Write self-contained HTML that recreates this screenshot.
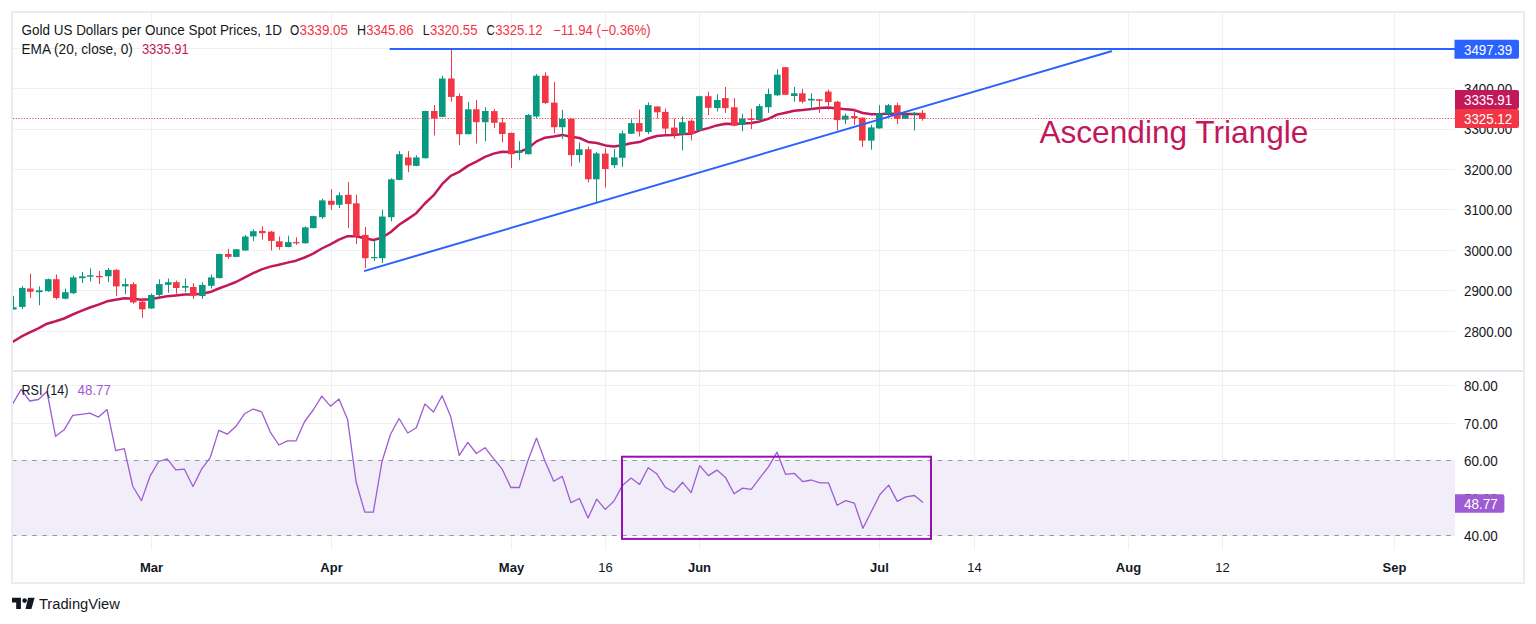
<!DOCTYPE html><html><head><meta charset="utf-8"><style>html,body{margin:0;padding:0;background:#fff;}svg{display:block}text{font-family:"Liberation Sans", sans-serif;}</style></head><body>
<svg width="1536" height="624" viewBox="0 0 1536 624">
<rect x="0" y="0" width="1536" height="624" fill="#fff"/>
<defs><clipPath id="mainclip"><rect x="13" y="13" width="1442" height="357"/></clipPath><clipPath id="rsiclip"><rect x="13" y="372" width="1442" height="178"/></clipPath></defs>
<rect x="13" y="460" width="1442" height="76" fill="#F2EEF9"/>
<rect x="151" y="13" width="1" height="357" fill="#F0F0F1"/>
<rect x="151" y="372" width="1" height="178" fill="#F0F0F1"/>
<rect x="331" y="13" width="1" height="357" fill="#F0F0F1"/>
<rect x="331" y="372" width="1" height="178" fill="#F0F0F1"/>
<rect x="511" y="13" width="1" height="357" fill="#F0F0F1"/>
<rect x="511" y="372" width="1" height="178" fill="#F0F0F1"/>
<rect x="605" y="13" width="1" height="357" fill="#F0F0F1"/>
<rect x="605" y="372" width="1" height="178" fill="#F0F0F1"/>
<rect x="699" y="13" width="1" height="357" fill="#F0F0F1"/>
<rect x="699" y="372" width="1" height="178" fill="#F0F0F1"/>
<rect x="879" y="13" width="1" height="357" fill="#F0F0F1"/>
<rect x="879" y="372" width="1" height="178" fill="#F0F0F1"/>
<rect x="974" y="13" width="1" height="357" fill="#F0F0F1"/>
<rect x="974" y="372" width="1" height="178" fill="#F0F0F1"/>
<rect x="1128" y="13" width="1" height="357" fill="#F0F0F1"/>
<rect x="1128" y="372" width="1" height="178" fill="#F0F0F1"/>
<rect x="1222" y="13" width="1" height="357" fill="#F0F0F1"/>
<rect x="1222" y="372" width="1" height="178" fill="#F0F0F1"/>
<rect x="1394" y="13" width="1" height="357" fill="#F0F0F1"/>
<rect x="1394" y="372" width="1" height="178" fill="#F0F0F1"/>
<rect x="13" y="331" width="1442" height="1" fill="#F0F0F1"/>
<rect x="13" y="290" width="1442" height="1" fill="#F0F0F1"/>
<rect x="13" y="250" width="1442" height="1" fill="#F0F0F1"/>
<rect x="13" y="209" width="1442" height="1" fill="#F0F0F1"/>
<rect x="13" y="169" width="1442" height="1" fill="#F0F0F1"/>
<rect x="13" y="129" width="1442" height="1" fill="#F0F0F1"/>
<rect x="13" y="88" width="1442" height="1" fill="#F0F0F1"/>
<rect x="13" y="48" width="1442" height="1" fill="#F0F0F1"/>
<rect x="13" y="385" width="1442" height="1" fill="#F0F0F1"/>
<rect x="13" y="423" width="1442" height="1" fill="#F0F0F1"/>
<rect x="13" y="498" width="1442" height="1" fill="#F0F0F1"/>
<line x1="13" y1="460.5" x2="1455" y2="460.5" stroke="#9598A1" stroke-width="1" stroke-dasharray="4.6 5.573" stroke-dashoffset="1.16"/>
<line x1="13" y1="535.5" x2="1455" y2="535.5" stroke="#9598A1" stroke-width="1" stroke-dasharray="4.6 5.573" stroke-dashoffset="1.16"/>
<text x="1039.4" y="142.8" font-size="31.5" fill="#C2185B" textLength="269" lengthAdjust="spacingAndGlyphs">Ascending Triangle</text>
<g clip-path="url(#mainclip)">
<polyline points="4.0,345.5 12.6,341.9 21.2,336.7 29.8,332.4 38.4,328.4 47.0,323.7 55.6,321.2 64.1,318.5 72.7,314.5 81.3,310.9 89.9,307.5 98.5,304.6 107.1,301.3 115.7,299.8 124.3,298.3 132.9,298.7 141.5,299.7 150.0,299.2 158.6,297.8 167.2,296.3 175.8,295.5 184.4,294.6 193.0,294.6 201.6,293.7 210.2,292.1 218.8,288.5 227.3,285.4 235.9,282.0 244.5,277.7 253.1,273.2 261.7,269.4 270.3,266.6 278.9,264.7 287.5,262.6 296.1,260.7 304.6,257.5 313.2,253.6 321.8,248.5 330.4,244.3 339.0,239.7 347.6,236.2 356.2,236.2 364.8,238.2 373.4,240.0 381.9,237.8 390.5,232.2 399.1,224.8 407.7,219.1 416.3,213.2 424.9,203.5 433.5,195.4 442.1,184.2 450.7,175.9 459.2,171.9 467.8,165.9 476.4,161.7 485.0,156.9 493.6,153.6 502.2,151.7 510.8,151.9 519.4,151.8 528.0,148.3 536.5,141.4 545.1,137.7 553.7,136.6 562.3,134.9 570.9,136.8 579.5,138.0 588.1,141.9 596.7,143.0 605.3,145.4 613.8,146.6 622.4,145.3 631.0,143.2 639.6,142.1 648.2,138.5 656.8,136.0 665.4,135.3 674.0,135.1 682.6,133.9 691.1,133.8 699.7,130.3 708.3,128.1 716.9,125.4 725.5,123.7 734.1,123.9 742.7,123.4 751.3,123.0 759.9,121.4 768.4,118.8 777.0,114.6 785.6,112.7 794.2,110.8 802.8,109.9 811.4,108.9 820.0,108.1 828.6,107.4 837.2,108.6 845.7,109.3 854.3,110.1 862.9,113.0 871.5,114.3 880.1,114.3 888.7,113.4 897.3,113.9 905.9,114.0 914.5,113.9 923.0,114.3" fill="none" stroke="#C2185B" stroke-width="2.5" stroke-linejoin="round" stroke-linecap="round"/>
<rect x="13" y="296.0" width="1" height="13.5" fill="#089981"/>
<rect x="10" y="307.2" width="6.6" height="2.3" fill="#089981"/>
<rect x="22" y="286.0" width="1" height="22.8" fill="#089981"/>
<rect x="19" y="287.9" width="6.6" height="19.0" fill="#089981"/>
<rect x="30" y="273.8" width="1" height="24.2" fill="#F23645"/>
<rect x="27" y="288.5" width="6.6" height="3.3" fill="#F23645"/>
<rect x="39" y="286.4" width="1" height="18.8" fill="#089981"/>
<rect x="36" y="290.3" width="6.6" height="1.9" fill="#089981"/>
<rect x="48" y="278.5" width="1" height="13.4" fill="#089981"/>
<rect x="45" y="279.2" width="6.6" height="12.0" fill="#089981"/>
<rect x="56" y="274.5" width="1" height="24.9" fill="#F23645"/>
<rect x="53" y="279.2" width="6.6" height="18.8" fill="#F23645"/>
<rect x="65" y="288.5" width="1" height="10.9" fill="#089981"/>
<rect x="62" y="292.2" width="6.6" height="6.5" fill="#089981"/>
<rect x="73" y="275.5" width="1" height="18.6" fill="#089981"/>
<rect x="70" y="277.4" width="6.6" height="15.8" fill="#089981"/>
<rect x="82" y="272.0" width="1" height="11.1" fill="#089981"/>
<rect x="79" y="276.3" width="6.6" height="1.9" fill="#089981"/>
<rect x="90" y="268.3" width="1" height="13.1" fill="#089981"/>
<rect x="87" y="275.2" width="6.6" height="1.5" fill="#089981"/>
<rect x="99" y="270.9" width="1" height="13.1" fill="#F23645"/>
<rect x="96" y="275.9" width="6.6" height="1.4" fill="#F23645"/>
<rect x="108" y="268.0" width="1" height="14.1" fill="#089981"/>
<rect x="105" y="269.9" width="6.6" height="6.4" fill="#089981"/>
<rect x="116" y="269.0" width="1" height="27.1" fill="#F23645"/>
<rect x="113" y="269.9" width="6.6" height="16.5" fill="#F23645"/>
<rect x="125" y="278.5" width="1" height="15.6" fill="#089981"/>
<rect x="122" y="284.1" width="6.6" height="2.3" fill="#089981"/>
<rect x="133" y="282.2" width="1" height="21.5" fill="#F23645"/>
<rect x="130" y="284.1" width="6.6" height="18.3" fill="#F23645"/>
<rect x="142" y="297.7" width="1" height="20.1" fill="#F23645"/>
<rect x="139" y="301.7" width="6.6" height="7.6" fill="#F23645"/>
<rect x="151" y="293.4" width="1" height="15.4" fill="#089981"/>
<rect x="148" y="295.0" width="6.6" height="13.5" fill="#089981"/>
<rect x="159" y="279.3" width="1" height="18.0" fill="#089981"/>
<rect x="156" y="284.1" width="6.6" height="10.8" fill="#089981"/>
<rect x="168" y="278.5" width="1" height="14.3" fill="#089981"/>
<rect x="165" y="282.2" width="6.6" height="2.6" fill="#089981"/>
<rect x="176" y="280.6" width="1" height="13.2" fill="#F23645"/>
<rect x="173" y="282.2" width="6.6" height="5.8" fill="#F23645"/>
<rect x="185" y="278.5" width="1" height="13.7" fill="#089981"/>
<rect x="182" y="286.0" width="6.6" height="1.7" fill="#089981"/>
<rect x="193" y="283.3" width="1" height="15.6" fill="#F23645"/>
<rect x="190" y="287.0" width="6.6" height="8.4" fill="#F23645"/>
<rect x="202" y="282.2" width="1" height="16.7" fill="#089981"/>
<rect x="199" y="284.9" width="6.6" height="11.1" fill="#089981"/>
<rect x="211" y="274.5" width="1" height="14.0" fill="#089981"/>
<rect x="208" y="277.4" width="6.6" height="8.4" fill="#089981"/>
<rect x="219" y="253.5" width="1" height="24.9" fill="#089981"/>
<rect x="216" y="254.0" width="6.6" height="24.1" fill="#089981"/>
<rect x="228" y="248.8" width="1" height="10.0" fill="#F23645"/>
<rect x="225" y="254.0" width="6.6" height="2.9" fill="#F23645"/>
<rect x="236" y="249.0" width="1" height="8.2" fill="#089981"/>
<rect x="233" y="249.3" width="6.6" height="7.6" fill="#089981"/>
<rect x="245" y="234.9" width="1" height="15.9" fill="#089981"/>
<rect x="242" y="236.5" width="6.6" height="14.0" fill="#089981"/>
<rect x="253" y="229.3" width="1" height="11.6" fill="#089981"/>
<rect x="250" y="231.2" width="6.6" height="5.2" fill="#089981"/>
<rect x="262" y="226.4" width="1" height="13.2" fill="#F23645"/>
<rect x="259" y="230.9" width="6.6" height="2.3" fill="#F23645"/>
<rect x="271" y="230.9" width="1" height="19.6" fill="#F23645"/>
<rect x="268" y="231.7" width="6.6" height="9.2" fill="#F23645"/>
<rect x="279" y="236.5" width="1" height="13.2" fill="#F23645"/>
<rect x="276" y="241.3" width="6.6" height="5.7" fill="#F23645"/>
<rect x="288" y="235.7" width="1" height="11.6" fill="#089981"/>
<rect x="285" y="242.1" width="6.6" height="4.9" fill="#089981"/>
<rect x="296" y="237.3" width="1" height="7.6" fill="#F23645"/>
<rect x="293" y="242.1" width="6.6" height="1.2" fill="#F23645"/>
<rect x="305" y="226.4" width="1" height="17.2" fill="#089981"/>
<rect x="302" y="227.4" width="6.6" height="15.9" fill="#089981"/>
<rect x="313" y="215.7" width="1" height="12.7" fill="#089981"/>
<rect x="310" y="216.1" width="6.6" height="12.0" fill="#089981"/>
<rect x="322" y="198.8" width="1" height="20.0" fill="#089981"/>
<rect x="319" y="200.4" width="6.6" height="16.8" fill="#089981"/>
<rect x="331" y="189.2" width="1" height="20.5" fill="#F23645"/>
<rect x="328" y="200.8" width="6.6" height="4.0" fill="#F23645"/>
<rect x="339" y="192.4" width="1" height="15.6" fill="#089981"/>
<rect x="336" y="195.3" width="6.6" height="9.5" fill="#089981"/>
<rect x="348" y="182.0" width="1" height="46.1" fill="#F23645"/>
<rect x="345" y="194.8" width="6.6" height="9.2" fill="#F23645"/>
<rect x="356" y="194.8" width="1" height="49.3" fill="#F23645"/>
<rect x="353" y="203.3" width="6.6" height="32.8" fill="#F23645"/>
<rect x="365" y="226.9" width="1" height="41.2" fill="#F23645"/>
<rect x="362" y="234.9" width="6.6" height="23.3" fill="#F23645"/>
<rect x="374" y="240.5" width="1" height="20.4" fill="#089981"/>
<rect x="371" y="257.0" width="6.6" height="1.2" fill="#089981"/>
<rect x="382" y="209.7" width="1" height="53.3" fill="#089981"/>
<rect x="379" y="216.5" width="6.6" height="41.7" fill="#089981"/>
<rect x="391" y="178.3" width="1" height="43.1" fill="#089981"/>
<rect x="388" y="179.3" width="6.6" height="37.9" fill="#089981"/>
<rect x="399" y="151.1" width="1" height="29.1" fill="#089981"/>
<rect x="396" y="154.2" width="6.6" height="25.7" fill="#089981"/>
<rect x="408" y="151.1" width="1" height="21.1" fill="#F23645"/>
<rect x="405" y="157.4" width="6.6" height="8.0" fill="#F23645"/>
<rect x="416" y="155.4" width="1" height="10.8" fill="#089981"/>
<rect x="413" y="157.4" width="6.6" height="8.5" fill="#089981"/>
<rect x="425" y="110.7" width="1" height="47.8" fill="#089981"/>
<rect x="422" y="111.0" width="6.6" height="47.2" fill="#089981"/>
<rect x="434" y="105.0" width="1" height="30.4" fill="#F23645"/>
<rect x="431" y="111.0" width="6.6" height="7.6" fill="#F23645"/>
<rect x="442" y="76.0" width="1" height="41.2" fill="#089981"/>
<rect x="439" y="78.5" width="6.6" height="38.4" fill="#089981"/>
<rect x="451" y="48.4" width="1" height="53.3" fill="#F23645"/>
<rect x="448" y="78.5" width="6.6" height="18.4" fill="#F23645"/>
<rect x="459" y="93.4" width="1" height="51.6" fill="#F23645"/>
<rect x="456" y="96.0" width="6.6" height="38.2" fill="#F23645"/>
<rect x="468" y="102.0" width="1" height="32.5" fill="#089981"/>
<rect x="465" y="109.3" width="6.6" height="24.9" fill="#089981"/>
<rect x="476" y="100.1" width="1" height="43.3" fill="#F23645"/>
<rect x="473" y="109.3" width="6.6" height="12.9" fill="#F23645"/>
<rect x="485" y="107.3" width="1" height="34.1" fill="#089981"/>
<rect x="482" y="111.0" width="6.6" height="11.2" fill="#089981"/>
<rect x="494" y="108.9" width="1" height="19.2" fill="#F23645"/>
<rect x="491" y="111.1" width="6.6" height="11.7" fill="#F23645"/>
<rect x="502" y="117.9" width="1" height="24.4" fill="#F23645"/>
<rect x="499" y="122.4" width="6.6" height="11.6" fill="#F23645"/>
<rect x="511" y="132.6" width="1" height="35.5" fill="#F23645"/>
<rect x="508" y="132.9" width="6.6" height="21.3" fill="#F23645"/>
<rect x="519" y="141.2" width="1" height="19.0" fill="#089981"/>
<rect x="516" y="150.8" width="6.6" height="2.0" fill="#089981"/>
<rect x="528" y="113.8" width="1" height="40.7" fill="#089981"/>
<rect x="525" y="115.0" width="6.6" height="39.2" fill="#089981"/>
<rect x="536" y="73.9" width="1" height="44.4" fill="#089981"/>
<rect x="533" y="75.7" width="6.6" height="40.8" fill="#089981"/>
<rect x="545" y="72.3" width="1" height="31.8" fill="#F23645"/>
<rect x="542" y="75.7" width="6.6" height="27.3" fill="#F23645"/>
<rect x="554" y="82.0" width="1" height="51.3" fill="#F23645"/>
<rect x="551" y="102.6" width="6.6" height="24.6" fill="#F23645"/>
<rect x="562" y="109.8" width="1" height="29.1" fill="#089981"/>
<rect x="559" y="118.8" width="6.6" height="8.4" fill="#089981"/>
<rect x="571" y="118.5" width="1" height="47.8" fill="#F23645"/>
<rect x="568" y="118.8" width="6.6" height="36.3" fill="#F23645"/>
<rect x="579" y="142.5" width="1" height="20.0" fill="#089981"/>
<rect x="576" y="149.3" width="6.6" height="5.8" fill="#089981"/>
<rect x="588" y="146.4" width="1" height="36.0" fill="#F23645"/>
<rect x="585" y="149.3" width="6.6" height="30.0" fill="#F23645"/>
<rect x="596" y="152.0" width="1" height="50.2" fill="#089981"/>
<rect x="593" y="153.4" width="6.6" height="25.9" fill="#089981"/>
<rect x="605" y="148.4" width="1" height="39.2" fill="#F23645"/>
<rect x="602" y="153.6" width="6.6" height="15.4" fill="#F23645"/>
<rect x="614" y="149.1" width="1" height="18.8" fill="#089981"/>
<rect x="611" y="157.4" width="6.6" height="7.8" fill="#089981"/>
<rect x="622" y="130.5" width="1" height="36.3" fill="#089981"/>
<rect x="619" y="133.4" width="6.6" height="24.4" fill="#089981"/>
<rect x="631" y="119.3" width="1" height="14.8" fill="#089981"/>
<rect x="628" y="123.1" width="6.6" height="10.7" fill="#089981"/>
<rect x="639" y="109.6" width="1" height="26.9" fill="#F23645"/>
<rect x="636" y="123.1" width="6.6" height="8.4" fill="#F23645"/>
<rect x="648" y="102.4" width="1" height="31.8" fill="#089981"/>
<rect x="645" y="105.1" width="6.6" height="26.9" fill="#089981"/>
<rect x="657" y="106.2" width="1" height="12.3" fill="#F23645"/>
<rect x="654" y="106.5" width="6.6" height="5.8" fill="#F23645"/>
<rect x="665" y="108.7" width="1" height="25.5" fill="#F23645"/>
<rect x="662" y="111.9" width="6.6" height="16.7" fill="#F23645"/>
<rect x="674" y="118.6" width="1" height="20.1" fill="#F23645"/>
<rect x="671" y="127.6" width="6.6" height="6.6" fill="#F23645"/>
<rect x="682" y="116.3" width="1" height="34.1" fill="#089981"/>
<rect x="679" y="122.2" width="6.6" height="12.0" fill="#089981"/>
<rect x="691" y="119.3" width="1" height="21.2" fill="#F23645"/>
<rect x="688" y="120.8" width="6.6" height="13.0" fill="#F23645"/>
<rect x="699" y="95.7" width="1" height="34.8" fill="#089981"/>
<rect x="696" y="96.2" width="6.6" height="34.0" fill="#089981"/>
<rect x="708" y="91.7" width="1" height="23.5" fill="#F23645"/>
<rect x="705" y="96.2" width="6.6" height="11.6" fill="#F23645"/>
<rect x="717" y="94.0" width="1" height="17.4" fill="#089981"/>
<rect x="714" y="100.0" width="6.6" height="8.1" fill="#089981"/>
<rect x="725" y="86.9" width="1" height="26.0" fill="#F23645"/>
<rect x="722" y="98.1" width="6.6" height="10.0" fill="#F23645"/>
<rect x="734" y="98.1" width="1" height="28.0" fill="#F23645"/>
<rect x="731" y="107.3" width="6.6" height="18.5" fill="#F23645"/>
<rect x="742" y="113.7" width="1" height="17.5" fill="#089981"/>
<rect x="739" y="118.5" width="6.6" height="6.3" fill="#089981"/>
<rect x="751" y="108.9" width="1" height="20.1" fill="#F23645"/>
<rect x="748" y="118.5" width="6.6" height="1.5" fill="#F23645"/>
<rect x="759" y="104.1" width="1" height="18.8" fill="#089981"/>
<rect x="756" y="106.1" width="6.6" height="13.9" fill="#089981"/>
<rect x="768" y="88.5" width="1" height="24.4" fill="#089981"/>
<rect x="765" y="94.0" width="6.6" height="13.2" fill="#089981"/>
<rect x="777" y="69.3" width="1" height="26.7" fill="#089981"/>
<rect x="774" y="74.7" width="6.6" height="20.6" fill="#089981"/>
<rect x="785" y="66.9" width="1" height="28.2" fill="#F23645"/>
<rect x="782" y="67.2" width="6.6" height="27.6" fill="#F23645"/>
<rect x="794" y="86.9" width="1" height="14.8" fill="#089981"/>
<rect x="791" y="93.3" width="6.6" height="2.7" fill="#089981"/>
<rect x="802" y="88.8" width="1" height="14.5" fill="#F23645"/>
<rect x="799" y="93.3" width="6.6" height="8.4" fill="#F23645"/>
<rect x="811" y="93.3" width="1" height="16.4" fill="#089981"/>
<rect x="808" y="98.8" width="6.6" height="1.7" fill="#089981"/>
<rect x="819" y="99.0" width="1" height="13.9" fill="#F23645"/>
<rect x="816" y="99.3" width="6.6" height="1.5" fill="#F23645"/>
<rect x="828" y="89.6" width="1" height="20.1" fill="#F23645"/>
<rect x="825" y="91.6" width="6.6" height="10.5" fill="#F23645"/>
<rect x="837" y="100.8" width="1" height="29.7" fill="#F23645"/>
<rect x="834" y="101.7" width="6.6" height="18.4" fill="#F23645"/>
<rect x="845" y="113.6" width="1" height="10.5" fill="#089981"/>
<rect x="842" y="115.7" width="6.6" height="4.0" fill="#089981"/>
<rect x="854" y="108.5" width="1" height="16.4" fill="#F23645"/>
<rect x="851" y="116.1" width="6.6" height="2.0" fill="#F23645"/>
<rect x="862" y="117.4" width="1" height="29.6" fill="#F23645"/>
<rect x="859" y="117.7" width="6.6" height="22.9" fill="#F23645"/>
<rect x="871" y="124.8" width="1" height="24.9" fill="#089981"/>
<rect x="868" y="127.4" width="6.6" height="13.2" fill="#089981"/>
<rect x="879" y="105.2" width="1" height="23.5" fill="#089981"/>
<rect x="876" y="113.6" width="6.6" height="14.8" fill="#089981"/>
<rect x="888" y="104.0" width="1" height="12.9" fill="#089981"/>
<rect x="885" y="105.2" width="6.6" height="8.8" fill="#089981"/>
<rect x="897" y="102.8" width="1" height="21.3" fill="#F23645"/>
<rect x="894" y="105.2" width="6.6" height="13.6" fill="#F23645"/>
<rect x="905" y="111.3" width="1" height="7.8" fill="#089981"/>
<rect x="902" y="114.9" width="6.6" height="3.9" fill="#089981"/>
<rect x="914" y="112.0" width="1" height="18.5" fill="#089981"/>
<rect x="911" y="112.9" width="6.6" height="1.2" fill="#089981"/>
<rect x="922" y="110.0" width="1" height="10.7" fill="#F23645"/>
<rect x="919" y="112.8" width="6.6" height="6.1" fill="#F23645"/>
<line x1="13" y1="118.5" x2="1455" y2="118.5" stroke="#F23645" stroke-width="1" stroke-dasharray="1.1 1.67"/>
<line x1="389.6" y1="48.9" x2="1455" y2="48.9" stroke="#2962FF" stroke-width="2"/>
<line x1="364.9" y1="270.9" x2="1111.25" y2="51.3" stroke="#2962FF" stroke-width="2" stroke-linecap="round"/>
</g>
<g clip-path="url(#rsiclip)">
<polyline points="4.03,415.0 12.62,404.0 21.20,389.4 29.79,401.0 38.38,399.5 46.97,391.6 55.56,436.3 64.15,429.8 72.74,415.4 81.33,414.3 89.92,413.2 98.51,417.1 107.09,409.6 115.68,450.7 124.27,448.6 132.86,486.5 141.45,500.6 150.04,476.2 158.63,461.5 167.22,458.8 175.81,469.8 184.40,469.2 192.98,486.5 201.57,469.2 210.16,457.7 218.75,430.4 227.34,434.2 235.93,426.3 244.52,413.8 253.11,409.0 261.70,411.9 270.29,432.1 278.88,445.0 287.46,440.8 296.05,440.8 304.64,421.5 313.23,410.0 321.82,396.2 330.41,406.2 339.00,398.9 347.59,419.6 356.18,482.3 364.76,512.1 373.35,512.1 381.94,461.8 390.53,434.3 399.12,418.5 407.71,433.0 416.30,427.8 424.89,404.0 433.48,412.0 442.07,395.8 450.65,416.4 459.24,455.4 467.83,442.3 476.42,453.5 485.01,447.7 493.60,458.7 502.19,469.2 510.78,487.5 519.37,487.5 527.96,460.6 536.54,438.1 545.13,461.5 553.72,481.2 562.31,476.4 570.90,502.7 579.49,498.5 588.08,518.1 596.67,499.2 605.26,509.4 613.85,501.2 622.44,485.4 631.02,478.1 639.61,484.4 648.20,467.7 656.79,473.8 665.38,487.3 673.97,492.2 682.56,482.3 691.15,492.6 699.74,465.6 708.33,475.6 716.91,470.1 725.50,477.4 734.09,493.8 742.68,488.1 751.27,489.4 759.86,477.8 768.45,466.9 777.04,452.2 785.63,474.4 794.22,473.3 802.80,481.7 811.39,480.0 819.98,482.9 828.57,482.9 837.16,505.3 845.75,500.6 854.34,503.1 862.93,528.3 871.52,511.2 880.11,494.2 888.69,485.1 897.28,501.4 905.87,496.9 914.46,495.5 923.05,502.6" fill="none" stroke="#9D5CD4" stroke-width="1.3" stroke-linejoin="round"/>
<rect x="622" y="456.7" width="309" height="82.2" fill="none" stroke="#9412B2" stroke-width="2"/>
</g>
<rect x="13" y="370" width="1510" height="2" fill="#E4E6EC"/>
<rect x="11" y="11" width="1514" height="2" fill="#EAECF1"/>
<rect x="11" y="582" width="1514" height="2" fill="#EAECF1"/>
<rect x="11" y="11" width="2" height="573" fill="#EAECF1"/>
<rect x="1523" y="11" width="2" height="573" fill="#EAECF1"/>
<text x="1464" y="336.5" font-size="14.5" fill="#131722" textLength="48.2" lengthAdjust="spacingAndGlyphs">2800.00</text>
<text x="1464" y="296.1" font-size="14.5" fill="#131722" textLength="48.2" lengthAdjust="spacingAndGlyphs">2900.00</text>
<text x="1464" y="255.7" font-size="14.5" fill="#131722" textLength="48.2" lengthAdjust="spacingAndGlyphs">3000.00</text>
<text x="1464" y="215.2" font-size="14.5" fill="#131722" textLength="48.2" lengthAdjust="spacingAndGlyphs">3100.00</text>
<text x="1464" y="174.8" font-size="14.5" fill="#131722" textLength="48.2" lengthAdjust="spacingAndGlyphs">3200.00</text>
<text x="1464" y="134.4" font-size="14.5" fill="#131722" textLength="48.2" lengthAdjust="spacingAndGlyphs">3300.00</text>
<text x="1464" y="93.9" font-size="14.5" fill="#131722" textLength="48.2" lengthAdjust="spacingAndGlyphs">3400.00</text>
<text x="1464" y="391.2" font-size="14.5" fill="#131722" textLength="33.7" lengthAdjust="spacingAndGlyphs">80.00</text>
<text x="1464" y="428.7" font-size="14.5" fill="#131722" textLength="33.7" lengthAdjust="spacingAndGlyphs">70.00</text>
<text x="1464" y="466.2" font-size="14.5" fill="#131722" textLength="33.7" lengthAdjust="spacingAndGlyphs">60.00</text>
<text x="1464" y="503.7" font-size="14.5" fill="#131722" textLength="33.7" lengthAdjust="spacingAndGlyphs">50.00</text>
<text x="1464" y="541.2" font-size="14.5" fill="#131722" textLength="33.7" lengthAdjust="spacingAndGlyphs">40.00</text>
<path d="M1454.5,39.7 H1517 Q1519,39.7 1519,41.7 V56.8 Q1519,58.8 1517,58.8 H1454.5 Z" fill="#2962FF"/>
<text x="1464" y="54.5" font-size="14.5" fill="#fff" textLength="48.2" lengthAdjust="spacingAndGlyphs">3497.39</text>
<path d="M1455,90 H1517 Q1519,90 1519,92 V107 Q1519,109 1517,109 H1455 Z" fill="#C2185B"/>
<text x="1464" y="104.8" font-size="14.5" fill="#fff" textLength="48.2" lengthAdjust="spacingAndGlyphs">3335.91</text>
<path d="M1455,109 H1517 Q1519,109 1519,111 V126 Q1519,128 1517,128 H1455 Z" fill="#F23645"/>
<text x="1464" y="123.8" font-size="14.5" fill="#fff" textLength="48.2" lengthAdjust="spacingAndGlyphs">3325.12</text>
<path d="M1455,494.3 H1502.4 Q1504.4,494.3 1504.4,496.3 V510.70000000000005 Q1504.4,512.7 1502.4,512.7 H1455 Z" fill="#9D5CD4"/>
<text x="1464" y="508.8" font-size="14.5" fill="#fff" textLength="33.7" lengthAdjust="spacingAndGlyphs">48.77</text>
<text x="151.5" y="572" font-size="13" text-anchor="middle" font-weight="bold" fill="#131722">Mar</text>
<text x="331.5" y="572" font-size="13" text-anchor="middle" font-weight="bold" fill="#131722">Apr</text>
<text x="511.5" y="572" font-size="13" text-anchor="middle" font-weight="bold" fill="#131722">May</text>
<text x="605.5" y="572" font-size="13" text-anchor="middle" font-weight="normal" fill="#131722">16</text>
<text x="699.5" y="572" font-size="13" text-anchor="middle" font-weight="bold" fill="#131722">Jun</text>
<text x="879.5" y="572" font-size="13" text-anchor="middle" font-weight="bold" fill="#131722">Jul</text>
<text x="974.5" y="572" font-size="13" text-anchor="middle" font-weight="normal" fill="#131722">14</text>
<text x="1128.5" y="572" font-size="13" text-anchor="middle" font-weight="bold" fill="#131722">Aug</text>
<text x="1222.5" y="572" font-size="13" text-anchor="middle" font-weight="normal" fill="#131722">12</text>
<text x="1394.5" y="572" font-size="13" text-anchor="middle" font-weight="bold" fill="#131722">Sep</text>
<text x="21.5" y="34.6" font-size="14.2" fill="#131722" textLength="260.5" lengthAdjust="spacingAndGlyphs">Gold US Dollars per Ounce Spot Prices, 1D</text>
<text x="290" y="34.6" font-size="14.2" fill="#131722" textLength="9.2" lengthAdjust="spacingAndGlyphs">O</text>
<text x="299.5" y="34.6" font-size="14.2" fill="#F23645" textLength="48.5" lengthAdjust="spacingAndGlyphs">3339.05</text>
<text x="356.9" y="34.6" font-size="14.2" fill="#131722" textLength="9.0" lengthAdjust="spacingAndGlyphs">H</text>
<text x="366.2" y="34.6" font-size="14.2" fill="#F23645" textLength="47.4" lengthAdjust="spacingAndGlyphs">3345.86</text>
<text x="422.8" y="34.6" font-size="14.2" fill="#131722" textLength="6.8" lengthAdjust="spacingAndGlyphs">L</text>
<text x="429.9" y="34.6" font-size="14.2" fill="#F23645" textLength="47.6" lengthAdjust="spacingAndGlyphs">3320.55</text>
<text x="486.6" y="34.6" font-size="14.2" fill="#131722" textLength="8.3" lengthAdjust="spacingAndGlyphs">C</text>
<text x="495.2" y="34.6" font-size="14.2" fill="#F23645" textLength="47.4" lengthAdjust="spacingAndGlyphs">3325.12</text>
<text x="553" y="34.6" font-size="14.2" fill="#F23645" textLength="97.6" lengthAdjust="spacingAndGlyphs">−11.94 (−0.36%)</text>
<text x="21.5" y="54" font-size="14.2" fill="#131722" textLength="111.3" lengthAdjust="spacingAndGlyphs">EMA (20, close, 0)</text>
<text x="141.9" y="54" font-size="14.2" fill="#C2185B" textLength="46.9" lengthAdjust="spacingAndGlyphs">3335.91</text>
<text x="21.5" y="394.5" font-size="14.2" fill="#131722" textLength="46.9" lengthAdjust="spacingAndGlyphs">RSI (14)</text>
<text x="77.5" y="394.5" font-size="14.2" fill="#9D5CD4" textLength="33.5" lengthAdjust="spacingAndGlyphs">48.77</text>
<g fill="#131722"><path d="M12,597.8 H20.9 V609 H16.2 V602.5 H12 Z"/><circle cx="24.6" cy="600.6" r="2.3"/><path d="M28.1,597.8 H34.6 L31.4,609 H25.5 Z"/></g>
<text x="38.9" y="609" font-size="14.7" fill="#131722" textLength="81" lengthAdjust="spacingAndGlyphs">TradingView</text>
</svg></body></html>
